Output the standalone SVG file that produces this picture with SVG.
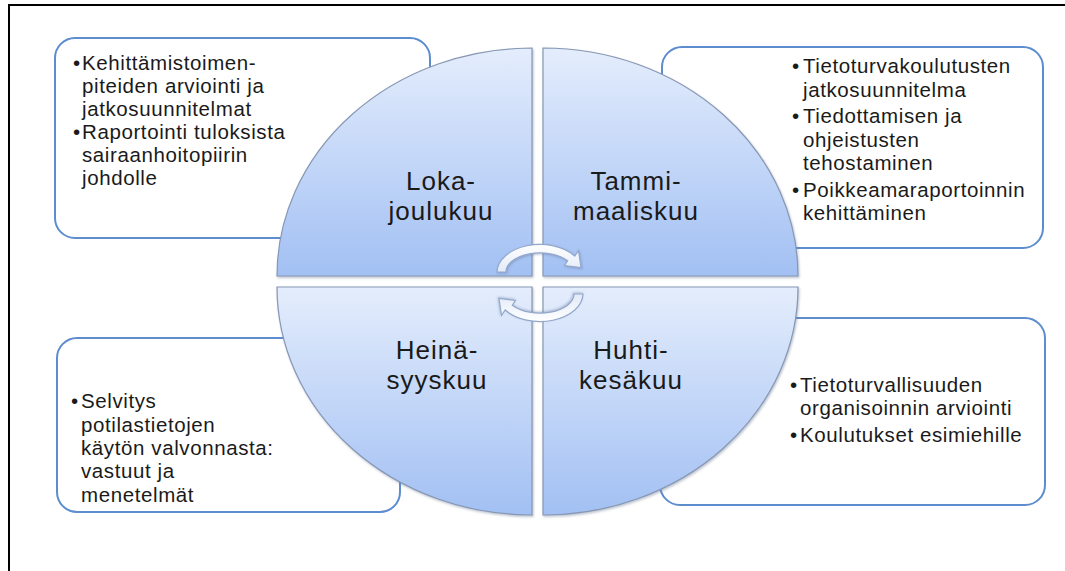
<svg xmlns="http://www.w3.org/2000/svg" width="1065" height="571" viewBox="0 0 1065 571">
  <style>
    .box { fill: #ffffff; stroke: #5d8ccf; stroke-width: 2; }
    .quad { fill: url(#qgrad); stroke: #8797b4; stroke-width: 1.2; filter: url(#shadow); }
    .lbl { font-family: "Liberation Sans", Arial, sans-serif; font-size: 26px; letter-spacing: 1px; fill: #1a1a1a; text-anchor: middle; }
    .txt { font-family: "Liberation Sans", Arial, sans-serif; font-size: 20.5px; letter-spacing: 0.6px; fill: #1a1a1a; }
    .arrow { fill: url(#agrad); stroke: #93a8cc; stroke-width: 1.2; filter: url(#ashadow); }
  </style>
  <defs>
    <linearGradient id="qgrad" x1="0" y1="0" x2="0" y2="1">
      <stop offset="0" stop-color="#e4edfc"/>
      <stop offset="1" stop-color="#a2c0f3"/>
    </linearGradient>
    <linearGradient id="agrad" x1="0" y1="0" x2="0" y2="1">
      <stop offset="0" stop-color="#ffffff"/>
      <stop offset="1" stop-color="#e2eaf8"/>
    </linearGradient>
    <filter id="shadow" x="-5%" y="-5%" width="110%" height="110%">
      <feDropShadow dx="1" dy="1.5" stdDeviation="1.2" flood-color="#6b7a96" flood-opacity="0.45"/>
    </filter>
    <filter id="ashadow" x="-20%" y="-20%" width="140%" height="140%">
      <feDropShadow dx="0.8" dy="1" stdDeviation="0.8" flood-color="#5a6e92" flood-opacity="0.4"/>
    </filter>
  </defs>

  <rect width="1065" height="571" fill="#ffffff"/>
  <path d="M9,571 L9,5 L1065,5" fill="none" stroke="#000000" stroke-width="2"/>

  <g id="box-top-left">
    <rect class="box" x="55" y="38" width="375" height="200" rx="20"/>
    <text class="txt">
      <tspan x="73" y="70">•</tspan><tspan x="82" y="70">Kehittämistoimen-</tspan>
      <tspan x="82" y="93">piteiden arviointi ja</tspan>
      <tspan x="82" y="116">jatkosuunnitelmat</tspan>
      <tspan x="73" y="139">•</tspan><tspan x="82" y="139">Raportointi tuloksista</tspan>
      <tspan x="82" y="162">sairaanhoitopiirin</tspan>
      <tspan x="82" y="185">johdolle</tspan>
    </text>
  </g>

  <g id="box-top-right">
    <rect class="box" x="662" y="47" width="381" height="201" rx="20"/>
    <text class="txt">
      <tspan x="792" y="73">•</tspan><tspan x="803" y="73">Tietoturvakoulutusten</tspan>
      <tspan x="803" y="97">jatkosuunnitelma</tspan>
      <tspan x="792" y="123">•</tspan><tspan x="803" y="123">Tiedottamisen ja</tspan>
      <tspan x="803" y="147">ohjeistusten</tspan>
      <tspan x="803" y="170">tehostaminen</tspan>
      <tspan x="792" y="197">•</tspan><tspan x="803" y="197">Poikkeamaraportoinnin</tspan>
      <tspan x="803" y="220">kehittäminen</tspan>
    </text>
  </g>

  <g id="box-bottom-right">
    <rect class="box" x="660" y="318" width="385" height="187" rx="20"/>
    <text class="txt">
      <tspan x="790" y="392">•</tspan><tspan x="800" y="392">Tietoturvallisuuden</tspan>
      <tspan x="800" y="415">organisoinnin arviointi</tspan>
      <tspan x="790" y="442">•</tspan><tspan x="800" y="442">Koulutukset esimiehille</tspan>
    </text>
  </g>

  <g id="box-bottom-left">
    <rect class="box" x="57" y="338" width="343" height="174" rx="20"/>
    <text class="txt">
      <tspan x="71" y="408">•</tspan><tspan x="81" y="408">Selvitys</tspan>
      <tspan x="81" y="432">potilastietojen</tspan>
      <tspan x="81" y="455">käytön valvonnasta:</tspan>
      <tspan x="81" y="478">vastuut ja</tspan>
      <tspan x="81" y="502">menetelmät</tspan>
    </text>
  </g>

  <g id="quad-loka-joulukuu">
    <path class="quad" d="M532,276 L277,276 A255,228 0 0 1 532,48 Z"/>
    <text class="lbl"><tspan x="441" y="190">Loka-</tspan><tspan x="441" y="220">joulukuu</tspan></text>
  </g>

  <g id="quad-tammi-maaliskuu">
    <path class="quad" d="M543,276 L543,48 A255,228 0 0 1 798,276 Z"/>
    <text class="lbl"><tspan x="636" y="190">Tammi-</tspan><tspan x="636" y="220">maaliskuu</tspan></text>
  </g>

  <g id="quad-heina-syyskuu">
    <path class="quad" d="M532,287 L532,515 A255,228 0 0 1 277,287 Z"/>
    <text class="lbl"><tspan x="437" y="359">Heinä-</tspan><tspan x="437" y="389">syyskuu</tspan></text>
  </g>

  <g id="quad-huhti-kesakuu">
    <path class="quad" d="M543,287 L798,287 A255,228 0 0 1 543,515 Z"/>
    <text class="lbl"><tspan x="631" y="359">Huhti-</tspan><tspan x="631" y="389">kesäkuu</tspan></text>
  </g>

  <g id="connectors">
    <path class="arrow" d="M497,272 A43,28 0 0 1 574.8,256 L578.5,250.6 L581,267.5 L564.5,265.5 L567.6,260.8 A34,19 0 0 0 506,272 Z"/>
    <path class="arrow" transform="rotate(180 540 283)" d="M497,272 A43,28 0 0 1 574.8,256 L578.5,250.6 L581,267.5 L564.5,265.5 L567.6,260.8 A34,19 0 0 0 506,272 Z"/>
  </g>
</svg>
